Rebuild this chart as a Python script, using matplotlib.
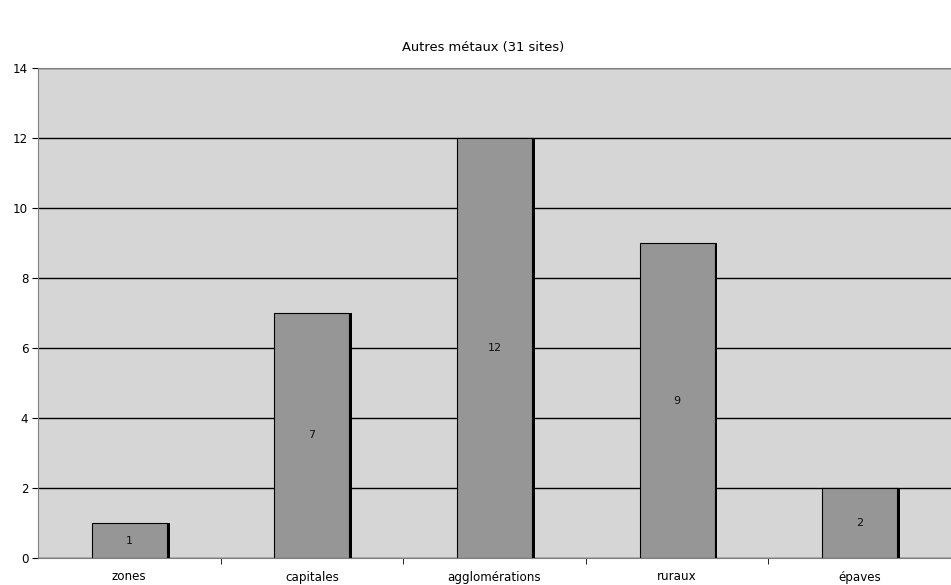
import numpy as np
import matplotlib.pyplot as plt

categories = ['zones', 'capitales', 'agglomérations', 'ruraux', 'épaves']
values = [1, 7, 12, 9, 2]
title = 'Autres métaux (31 sites)'

fig = plt.figure(figsize=(9.51, 5.85), dpi=100)
ax = fig.add_axes([38 / 951, 27 / 585, 913 / 951, 490 / 585])
ax.set_facecolor('#d6d6d6')

x = np.arange(len(categories))
width = 0.41
# black shadow on the right side of each bar
ax.bar(x + 0.016, values, width, color='black', zorder=2)
bars = ax.bar(x, values, width, color='#969696', edgecolor='black', linewidth=0.8, zorder=3)
for b, v in zip(bars, values):
    ax.text(b.get_x() + b.get_width() / 2, v / 2, str(v), ha='center', va='center',
            fontsize=8, color='#111111', zorder=4)

ax.set_xlim(-0.5, len(categories) - 0.5)
ax.set_ylim(0, 14)
ax.set_yticks(range(0, 15, 2))
ax.yaxis.grid(True, color='black', linewidth=1)
ax.set_axisbelow(True)
ax.set_xticks(x)
ax.set_xticklabels(categories)
ax.set_xticks(np.arange(-0.5, len(categories), 1.0)[1:-1], minor=True)
ax.tick_params(axis='x', which='major', length=0, pad=9, labelsize=8.6)
ax.tick_params(axis='x', which='minor', length=4, color='black')
ax.tick_params(axis='y', length=4, labelsize=8.6, pad=3)

ax.spines['right'].set_visible(False)
for s in ['top', 'left', 'bottom']:
    ax.spines[s].set_color('#808080')
    ax.spines[s].set_zorder(5)

fig.text(0.508, 1 - 48 / 585, title, ha='center', va='center', fontsize=9.4)

fig.savefig('out.png', dpi=100)
